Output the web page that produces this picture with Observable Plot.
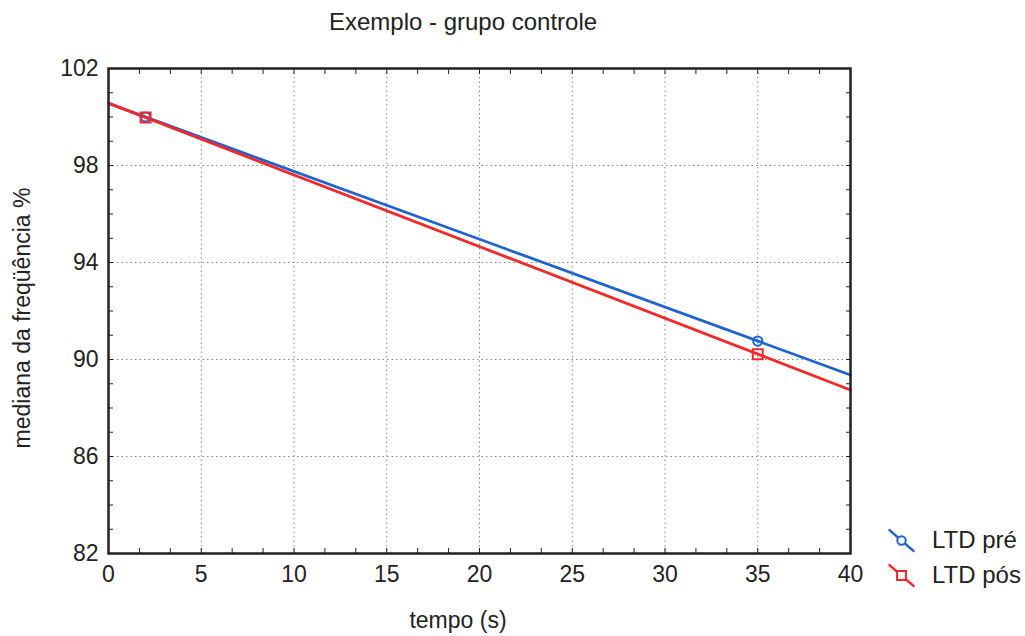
<!DOCTYPE html>
<html><head><meta charset="utf-8">
<script src="https://cdn.jsdelivr.net/npm/d3@7"></script>
<script src="https://cdn.jsdelivr.net/npm/@observablehq/plot@0.6"></script>
<style>
body{margin:0;background:#fff;font-family:"Liberation Sans",Arial,sans-serif;color:#222;}
#wrap{position:relative;width:1025px;height:636px;overflow:hidden;}
.lbl{position:absolute;white-space:nowrap;font-size:23px;color:#222;}
#title{left:463px;top:8px;transform:translateX(-50%);font-size:24px;}
#xlab{left:458px;top:607px;transform:translateX(-50%);}
#ylab{left:22px;top:318px;transform:translate(-50%,-50%) rotate(-90deg);}
.leg{position:absolute;left:886px;display:flex;align-items:center;font-size:24px;}
.leg svg{margin-right:16px;}
</style></head>
<body><div id="wrap"></div>
<script>
const title = "Exemplo - grupo controle";
const xLabel = "tempo (s)";
const yLabel = "mediana da freqüência %";
const seriesNames = ["LTD pré", "LTD pós"];
const seriesColors = ["#1f63d3", "#f52828"];
const seriesSymbols = ["circle", "square"];
const tempo = [2, 35];
const pre = [100.0, 90.76];
const pos = [99.98, 90.22];
const xDomain = [0, 40];
const yDomain = [82, 102];
const xMajor = [0, 5, 10, 15, 20, 25, 30, 35, 40];
const yMajor = [82, 86, 90, 94, 98, 102];
const xMinor = d3.range(0, 40.001, 5 / 3).map(v => +v.toFixed(4));
const yMinor = d3.range(82, 102.001, 1);

function fit(xs, ys) {
  const mx = d3.mean(xs), my = d3.mean(ys);
  const b = d3.sum(xs, (x, i) => (x - mx) * (ys[i] - my)) / d3.sum(xs, x => (x - mx) ** 2);
  const a = my - b * mx;
  return xDomain.map(x => ({x, y: a + b * x}));
}
const series = [pre, pos].map((vals, k) => ({
  name: seriesNames[k], color: seriesColors[k], symbol: seriesSymbols[k],
  pts: tempo.map((t, i) => ({x: t, y: vals[i]})),
  line: fit(tempo, vals)
}));

const marks = [
  Plot.gridX(xMajor.slice(1, -1), {stroke: "#888", strokeOpacity: 1, strokeWidth: 1, strokeDasharray: "1.5,3"}),
  Plot.gridY(yMajor.slice(1, -1), {stroke: "#888", strokeOpacity: 1, strokeWidth: 1, strokeDasharray: "1.5,3"}),
  Plot.axisX(xMinor, {anchor: "bottom", tickSize: -5, text: null, label: null, stroke: "#222"}),
  Plot.axisX(xMinor, {anchor: "top", tickSize: -5, text: null, label: null, stroke: "#222"}),
  Plot.axisY(yMinor, {anchor: "left", tickSize: -5, text: null, label: null, stroke: "#222"}),
  Plot.axisY(yMinor, {anchor: "right", tickSize: -5, text: null, label: null, stroke: "#222"}),
  Plot.axisX(xMajor, {anchor: "bottom", tickSize: 0, tickPadding: 12, fontSize: 23, label: null, fill: "#222"}),
  Plot.axisY(yMajor, {anchor: "left", tickSize: 0, tickPadding: 10, fontSize: 23, label: null, fill: "#222"}),
];
for (const s of series) {
  marks.push(Plot.line(s.line, {x: "x", y: "y", stroke: s.color, strokeWidth: 2.8}));
}
for (const s of series) {
  marks.push(Plot.dot(s.pts, {x: "x", y: "y", stroke: s.color, strokeWidth: 2, fill: "none", symbol: s.symbol, r: s.symbol === "square" ? 5.6 : 4.6}));
}
marks.push(Plot.frame({stroke: "#222", strokeWidth: 2.5}));

const chart = Plot.plot({
  width: 1025, height: 636,
  marginLeft: 108, marginRight: 175, marginTop: 68, marginBottom: 83,
  style: {fontFamily: "'Liberation Sans', Arial, sans-serif", background: "#fff", color: "#222"},
  x: {domain: xDomain},
  y: {domain: yDomain},
  marks
});
const wrap = document.getElementById("wrap");
wrap.appendChild(chart);
chart.style.position = "absolute"; chart.style.left = "0"; chart.style.top = "0";

function addLabel(id, text) {
  const d = document.createElement("div");
  d.className = "lbl"; d.id = id; d.textContent = text;
  wrap.appendChild(d);
}
addLabel("title", title);
addLabel("xlab", xLabel);
addLabel("ylab", yLabel);

const legTops = [526, 561];
series.forEach((s, k) => {
  const row = document.createElement("div");
  row.className = "leg";
  row.style.top = legTops[k] + "px";
  const icon = Plot.plot({
    width: 30, height: 26, margin: 0, axis: null,
    x: {domain: [0, 1]}, y: {domain: [0, 1]},
    marks: [
      Plot.line([{x: 0.1, y: 0.9}, {x: 0.9, y: 0.1}], {x: "x", y: "y", stroke: s.color, strokeWidth: 2.5}),
      Plot.dot([{x: 0.5, y: 0.5}], {x: "x", y: "y", stroke: s.color, fill: "white", strokeWidth: 2, symbol: s.symbol, r: s.symbol === "square" ? 5 : 4.2})
    ]
  });
  row.appendChild(icon);
  const t = document.createElement("span");
  t.textContent = s.name;
  row.appendChild(t);
  wrap.appendChild(row);
});
</script></body></html>
